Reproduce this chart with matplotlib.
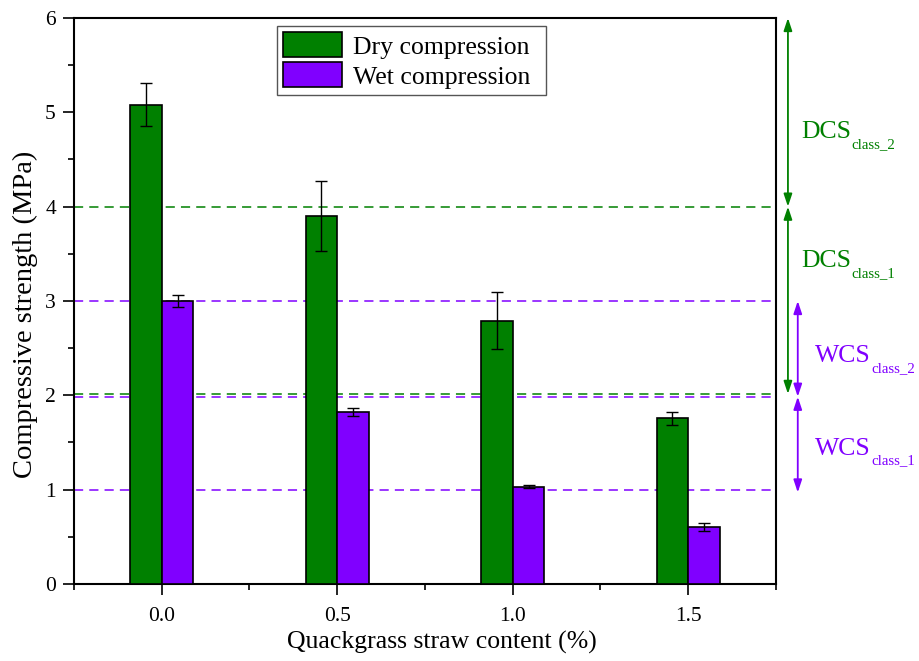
import numpy as np
import matplotlib
matplotlib.use('Agg')
import matplotlib.pyplot as plt
from matplotlib.ticker import MultipleLocator

plt.rcParams['font.family'] = ['Liberation Serif', 'DejaVu Serif']

# données
straw_content = [0.0, 0.5, 1.0, 1.5]
dry_strength = [5.08, 3.90, 2.79, 1.755]
dry_err = [0.23, 0.37, 0.30, 0.07]
wet_strength = [3.00, 1.82, 1.03, 0.605]
wet_err = [0.063, 0.042, 0.015, 0.045]

dry_limits = [4.0, 2.015]
wet_limits = [3.0, 1.985, 1.0]

green = '#008000'
violet = '#8000FF'

fig = plt.figure(figsize=(9.19, 6.61), dpi=100)
ax = fig.add_axes([0.0805, 0.1165, 0.7639, 0.8563])

width = 0.09
x = np.array(straw_content)
ax.bar(x - width / 2, dry_strength, width, color=green, edgecolor='black', linewidth=1.2,
       label='Dry compression', zorder=3)
ax.bar(x + width / 2, wet_strength, width, color=violet, edgecolor='black', linewidth=1.2,
       label='Wet compression', zorder=3)
ax.errorbar(x - width / 2, dry_strength, yerr=dry_err, fmt='none', ecolor='black',
            elinewidth=1, capsize=4.5, capthick=1, zorder=4)
ax.errorbar(x + width / 2, wet_strength, yerr=wet_err, fmt='none', ecolor='black',
            elinewidth=1, capsize=4.5, capthick=1, zorder=4)

for y in dry_limits:
    ax.axhline(y, color=green, lw=1.1, dashes=(6, 4), zorder=2)
for y in wet_limits:
    ax.axhline(y, color=violet, lw=1.1, dashes=(6, 4), zorder=2)

ax.set_xlim(-0.25, 1.75)
ax.set_ylim(0, 6)
ax.set_xticks(straw_content)
ax.set_xticklabels(['0.0', '0.5', '1.0', '1.5'])
ax.xaxis.set_minor_locator(MultipleLocator(0.25))
ax.yaxis.set_major_locator(MultipleLocator(1))
ax.yaxis.set_minor_locator(MultipleLocator(0.5))
ax.tick_params(which='major', direction='out', length=8, width=1.2, labelsize=15.5, pad=5)
ax.tick_params(which='minor', direction='out', length=4.5, width=1.2)
ax.tick_params(axis='x', which='major', pad=8.5)
for s in ax.spines.values():
    s.set_linewidth(1.5)

ax.set_xlabel('Quackgrass straw content (%)', fontsize=18.5)
ax.set_ylabel('Compressive strength (MPa)', fontsize=20.5)
ax.xaxis.set_label_coords(0.5235, -0.0835)
ax.yaxis.set_label_coords(-0.0513, 0.477)

leg = ax.legend(loc='upper left', bbox_to_anchor=(0.289, 0.5, 0.383, 0.486), mode='expand',
                fontsize=18.5, fancybox=False, framealpha=1, edgecolor='#555555',
                borderaxespad=0, handlelength=2.3, handleheight=1.12, handletextpad=0.4,
                labelspacing=0.15, borderpad=0.25)
leg.get_frame().set_linewidth(1)

# flèches des classes à droite du graphique
def class_arrow(xpos, y0, y1, color):
    ax.annotate('', xy=(xpos, y1), xytext=(xpos, y0),
                xycoords=('axes fraction', 'data'), textcoords=('axes fraction', 'data'),
                arrowprops=dict(arrowstyle='<|-|>,head_length=0.75,head_width=0.25',
                                color=color, lw=1.3, shrinkA=0, shrinkB=0),
                annotation_clip=False)

class_arrow(1.017, 6.0, 4.0, green)
class_arrow(1.017, 4.0, 2.015, green)
class_arrow(1.031, 3.0, 1.985, violet)
class_arrow(1.031, 1.985, 0.97, violet)

def class_label(xpos, ypos, main, sub, color):
    t = ax.text(xpos, ypos, main, transform=ax.get_yaxis_transform(), color=color,
                fontsize=18.5, ha='left', va='baseline', clip_on=False)
    ax.annotate(sub, xy=(1, 0), xycoords=t, xytext=(0.5, -3.5), textcoords='offset points',
                color=color, fontsize=10.7, ha='left', va='baseline', annotation_clip=False)

class_label(1.0356, 4.73, 'DCS', 'class_2', green)
class_label(1.0356, 3.36, 'DCS', 'class_1', green)
class_label(1.056, 2.35, 'WCS', 'class_2', violet)
class_label(1.056, 1.37, 'WCS', 'class_1', violet)

fig.savefig('out.png', dpi=100)
